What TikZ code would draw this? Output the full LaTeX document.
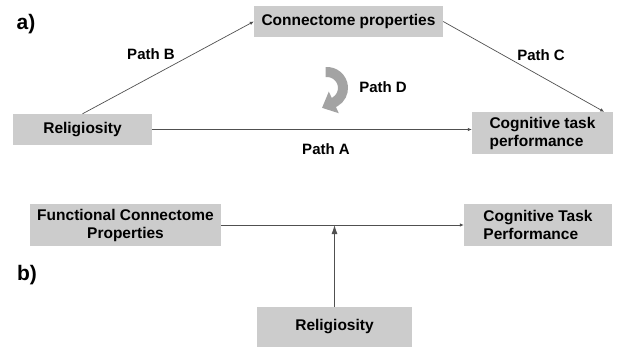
\documentclass[tikz,border=0pt]{standalone}
\usepackage{fontspec}
\setmainfont{Liberation Sans}
\usetikzlibrary{arrows.meta}
\definecolor{boxgray}{HTML}{CCCCCC}
\definecolor{linegray}{HTML}{505050}
\definecolor{curlgray}{HTML}{A3A3A3}

\begin{document}
\begin{tikzpicture}[x=1pt,y=-1pt]
\tikzstyle{box}=[fill=boxgray, inner sep=0pt, font=\bfseries\fontsize{15.5}{18}\selectfont]
\tikzstyle{lbl}=[inner sep=0pt, font=\bfseries\fontsize{15}{17}\selectfont]
\tikzstyle{panel}=[inner sep=0pt, font=\bfseries\fontsize{21}{24}\selectfont]
\tikzstyle{link}=[draw=linegray, line width=0.7pt, -{Latex[length=4pt,width=3.5pt]}]
\tikzstyle{modlink}=[draw=linegray, line width=0.9pt, -{Latex[length=9pt,width=6pt]}]
\tikzstyle{curl}=[draw=curlgray, line width=10pt, -{Triangle[length=13pt,width=23pt]}]
\useasboundingbox (0,0) rectangle (619,346);
\node[panel] (pa) at (26,24) {a)};
\node[panel] (pb) at (27,275) {b)};
\node[box, minimum width=189, minimum height=31] (conprop) at (348.5,21.5) {Connectome properties};
\node[box, minimum width=139, minimum height=31] (relA) at (82.5,129.5) {Religiosity};
\node[box, minimum width=141, minimum height=42, align=left] (cogA) at (542.5,133) {Cognitive task\\performance};
\node[lbl] (pathB) at (151,54) {Path B};
\node[lbl] (pathC) at (541,55) {Path C};
\node[lbl] (pathD) at (383,87) {Path D};
\node[lbl] (pathA) at (326,149) {Path A};
\draw[link] (relA.north) -- (conprop.west);
\draw[link] (conprop.east) -- ([xshift=-9]cogA.north east);
\draw[link] (relA.east) -- (relA.east -| cogA.west);
\draw[curl] (327,88) ++(-95:16) arc (-95:60:16) -- ++(-13,6);
\node[box, minimum width=191, minimum height=42, align=center] (funcB) at (125.5,225) {Functional Connectome\\Properties};
\node[box, minimum width=148, minimum height=42, align=left] (cogB) at (538,225) {Cognitive Task\\Performance};
\node[box, minimum width=155, minimum height=40] (relB) at (334.5,327) {Religiosity};
\draw[link] (funcB.east) -- (cogB.west);
\draw[modlink] (relB.north) -- (relB.north |- funcB.east);
\end{tikzpicture}
\end{document}
